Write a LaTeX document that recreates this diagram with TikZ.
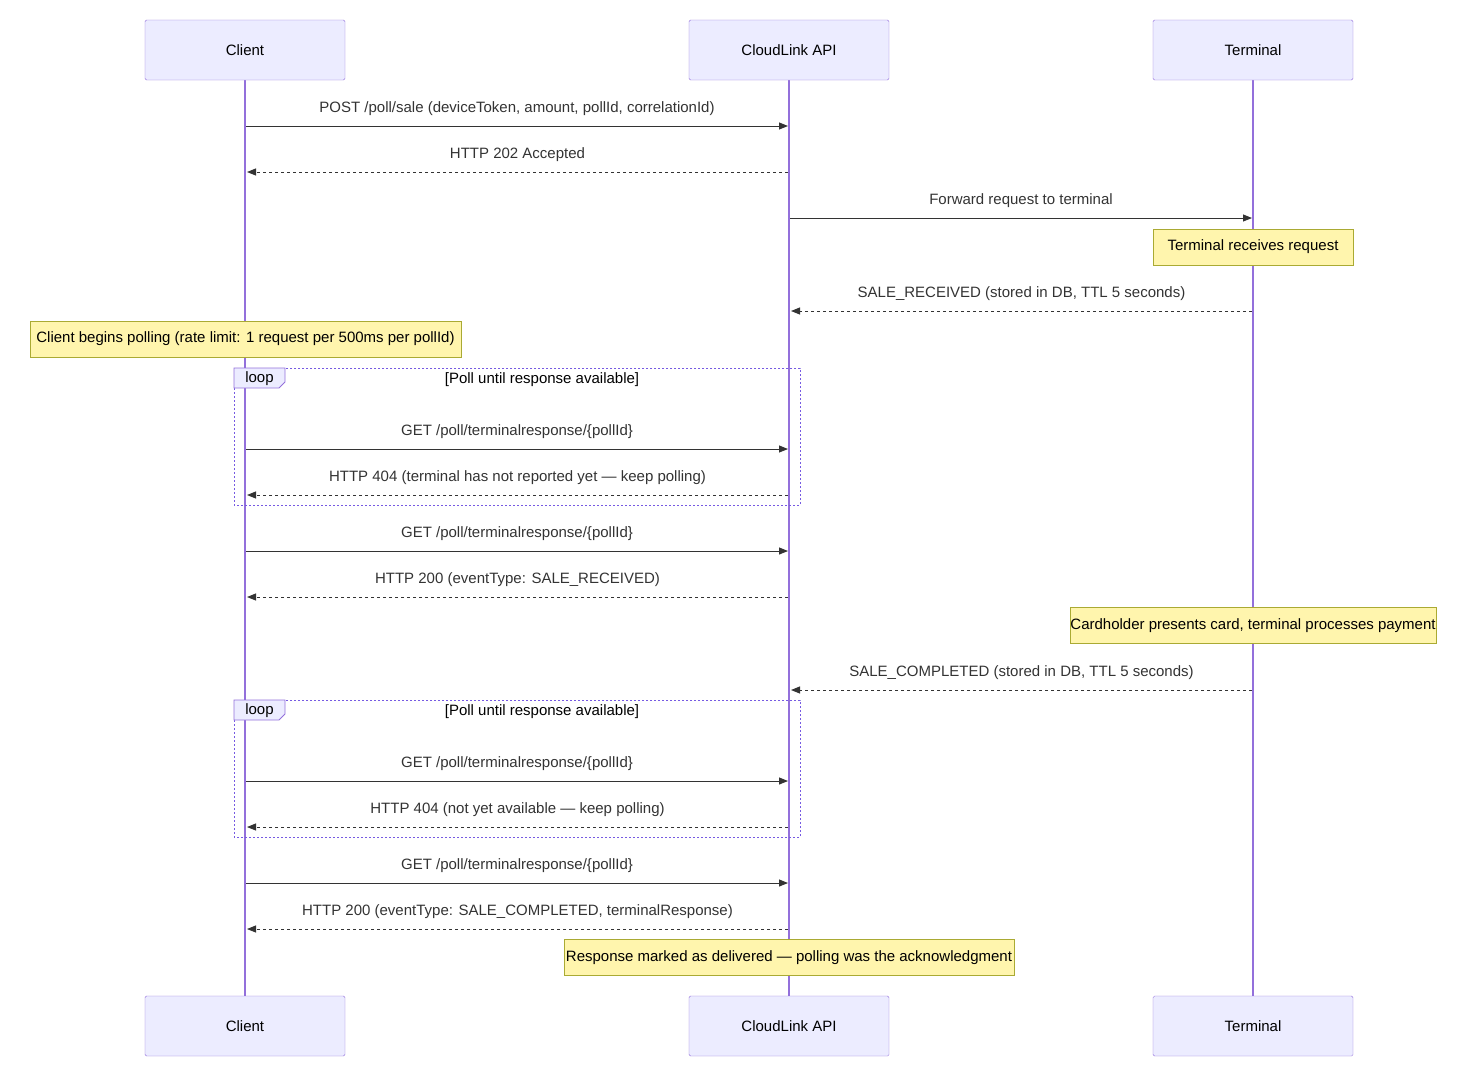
\documentclass[tikz,border=0pt]{standalone}
\usepackage{fontspec}
\setmainfont{Liberation Sans}
\usetikzlibrary{arrows.meta}
\definecolor{actfill}{HTML}{ECECFF}
\definecolor{actline}{HTML}{9370DB}
\definecolor{notefill}{HTML}{FFF5AD}
\definecolor{noteline}{HTML}{AAAA33}
\definecolor{txt}{HTML}{333333}
\begin{document}
\begin{tikzpicture}[x=1pt,y=-1pt,
  actor/.style={draw=actline,fill=actfill,minimum width=200pt,minimum height=60pt,rounded corners=1.5pt,inner sep=0pt,font=\fontsize{15}{18}\selectfont,text=black},
  note/.style={draw=noteline,fill=notefill,minimum height=36pt,inner sep=0pt,font=\fontsize{15}{18}\selectfont,text=black},
  lbl/.style={font=\fontsize{15}{18}\selectfont,text=txt},
  req/.style={draw=txt,line width=1pt,-{Triangle[length=9pt,width=7pt]}},
  rsp/.style={req,dash pattern=on 3pt off 3pt},
  life/.style={draw=actline,line width=1.3pt},
  loopbox/.style={draw=actline!80!blue,line width=1pt,dash pattern=on 2pt off 2pt}]
\useasboundingbox (0,0) rectangle (1466,1077);
% lifelines
\foreach \n/\x in {C/245,A/789,T/1253}{
  \coordinate (\n top) at (\x,80); \coordinate (\n bot) at (\x,996);
  \path[life] (\n top) -- (\n bot);
}
\node[actor] (c1) at (245,50) {Client};
\node[actor] (a1) at (789,50) {CloudLink API};
\node[actor] (t1) at (1253,50) {Terminal};
\node[actor] (c2) at (245,1026) {Client};
\node[actor] (a2) at (789,1026) {CloudLink API};
\node[actor] (t2) at (1253,1026) {Terminal};
% loops
\draw[loopbox] (234,368) rectangle (800,505);
\draw[loopbox] (234,700) rectangle (800,837);
\foreach \y in {368,700}{
  \draw[draw=actline,fill=actfill,line width=0.8pt] (234,\y) -- (285,\y) -- (285,\y+14) -- (279,\y+20) -- (234,\y+20) -- cycle;
  \node[lbl,text=black] at (259.5,\y+11) {loop};
  \node[lbl,text=black] at (542,\y+12) {[Poll until response available]};
}
% messages: y, from, to, label, style
\newcommand\mymsg[5]{%
  \coordinate (s#1) at (#2,#1); \coordinate (e#1) at (#3,#1);
  \draw[#5] (s#1) -- (e#1);
  \node[lbl] at ({(#2+#3)/2},#1-17) {#4};}
\mymsg{126}{246}{788}{POST /poll/sale (deviceToken, amount, pollId, correlationId)}{req}
\mymsg{172}{788}{247}{HTTP 202 Accepted}{rsp}
\mymsg{218}{790}{1252}{Forward request to terminal}{req}
\mymsg{311}{1252}{791}{SALE\_RECEIVED (stored in DB, TTL 5 seconds)}{rsp}
\mymsg{449}{246}{788}{GET /poll/terminalresponse/\{pollId\}}{req}
\mymsg{495}{788}{247}{HTTP 404 (terminal has not reported yet — keep polling)}{rsp}
\mymsg{551}{246}{788}{GET /poll/terminalresponse/\{pollId\}}{req}
\mymsg{597}{788}{247}{HTTP 200 (eventType: SALE\_RECEIVED)}{rsp}
\mymsg{690}{1252}{791}{SALE\_COMPLETED (stored in DB, TTL 5 seconds)}{rsp}
\mymsg{781}{246}{788}{GET /poll/terminalresponse/\{pollId\}}{req}
\mymsg{827}{788}{247}{HTTP 404 (not yet available — keep polling)}{rsp}
\mymsg{883}{246}{788}{GET /poll/terminalresponse/\{pollId\}}{req}
\mymsg{929}{788}{247}{HTTP 200 (eventType: SALE\_COMPLETED, terminalResponse)}{rsp}
% notes
\node[note,minimum width=200pt] (n1) at (1253,247) {Terminal receives request};
\node[note,minimum width=431pt] (n2) at (245.5,339) {Client begins polling (rate limit: 1 request per 500ms per pollId)};
\node[note,minimum width=366pt] (n3) at (1253,625.5) {Cardholder presents card, terminal processes payment};
\node[note,minimum width=450pt] (n4) at (789,957.5) {Response marked as delivered — polling was the acknowledgment};
\end{tikzpicture}
\end{document}
